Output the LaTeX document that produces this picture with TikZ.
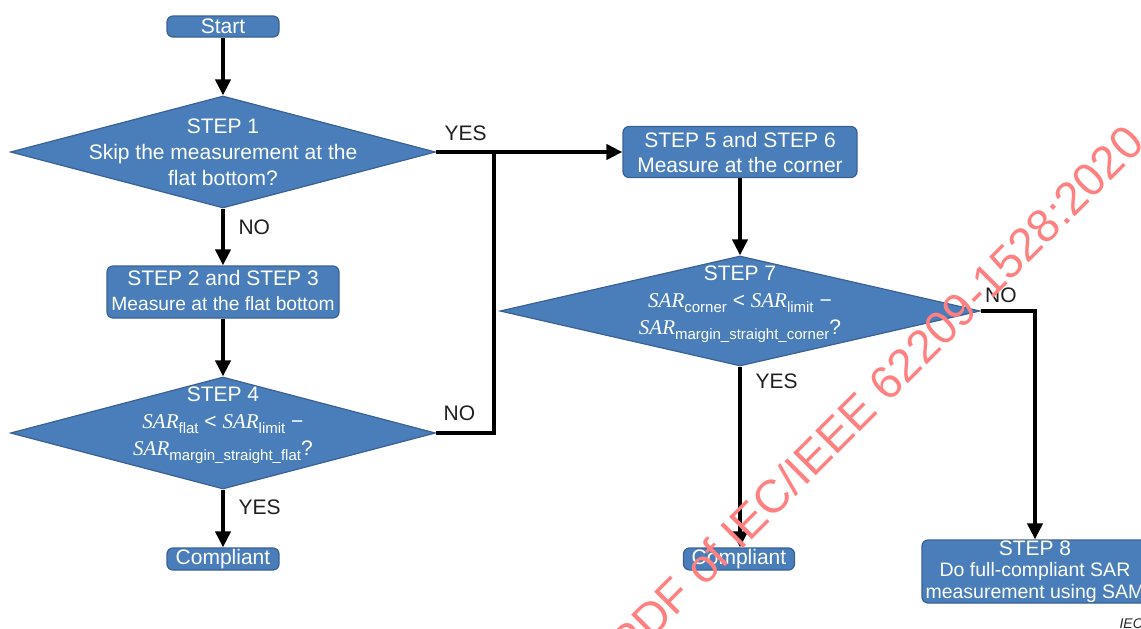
\documentclass[tikz,border=0pt]{standalone}
\usepackage{fontspec}
\setmainfont{Liberation Sans}
\newfontfamily\sarfont{Liberation Serif}
\usetikzlibrary{shapes.geometric,arrows.meta}

\definecolor{boxfill}{HTML}{4A7EBB}
\definecolor{boxedge}{HTML}{3A6192}
\newcommand{\sar}[1]{{\sarfont\itshape SAR}\raisebox{-5pt}{\fontsize{15}{15}\selectfont #1}}

\begin{document}
\begin{tikzpicture}[x=1pt, y=-1pt,
  box/.style={draw=boxedge, fill=boxfill, rounded corners=6pt, line width=1.2pt,
    text=white, inner sep=0pt, align=center, font=\fontsize{21}{25}\selectfont},
  decision/.style={diamond, draw=boxedge, fill=boxfill, line width=1.2pt, inner sep=0pt},
  inside/.style={text=white, align=center, inner sep=0pt, font=\fontsize{21}{26}\selectfont},
  conn/.style={line width=4pt, -{Triangle[length=16pt,width=15pt]}},
  link/.style={line width=4pt},
  answer/.style={anchor=west, text=black!88, font=\fontsize{21}{25}\selectfont},
  watermark/.style={text=red!50, font=\fontsize{46.5}{50}\selectfont}]
  \useasboundingbox (0,0) rectangle (1141,629);
  \clip (0,0) rectangle (1141,629);

  % left column
  \node[box, minimum width=112pt, minimum height=21pt] (start) at (223,26.5) {Start};
  \node[decision, minimum width=425pt, minimum height=112pt] (d1) at (223,152) {};
  \node[inside] (d1text) at (d1) {STEP 1\\Skip the measurement at the\\flat bottom?};
  \node[box, minimum width=232pt, minimum height=52pt] (s23) at (223,292) {};
  \node[inside, font=\fontsize{21}{25}\selectfont] (s23text) at (223,290)
    {STEP 2 and STEP 3\\{\fontsize{19.2}{25}\selectfont Measure at the flat bottom}};
  \node[decision, minimum width=425pt, minimum height=112pt] (d4) at (223,433) {};
  \node[inside] (d4text) at (223,425)
    {STEP 4\\[1pt]\sar{flat} < \sar{limit} −\\[1pt]\sar{margin\_straight\_flat}?};
  \node[box, minimum width=112pt, minimum height=22pt] (ok1) at (223,559) {Compliant};

  % right column
  \node[box, minimum width=234pt, minimum height=51pt] (s56) at (740,152)
    {STEP 5 and STEP 6\\Measure at the corner};
  \node[decision, minimum width=480pt, minimum height=110pt] (d7) at (740,311) {};
  \node[inside] (d7text) at (740,304)
    {STEP 7\\[1pt]\sar{corner} < \sar{limit} −\\[1pt]\sar{margin\_straight\_corner}?};
  \node[box, minimum width=111pt, minimum height=22pt] (ok2) at (739,559) {Compliant};
  \node[box, minimum width=226pt, minimum height=63pt, font=\fontsize{19.5}{21.5}\selectfont]
    (s8) at (1035,571.5) {{\fontsize{21}{21.5}\selectfont STEP 8}\\Do full-compliant SAR\\measurement using SAM};

  \draw[conn] (start) -- (d1);
  \draw[conn] (d1) -- (s23);
  \draw[conn] (s23) -- (d4);
  \draw[conn] (d4) -- (ok1);
  \draw[conn] (d1.east) -- (s56.west);
  \coordinate (join) at (494,152);
  \draw[link] (d4.east) -| (join);
  \draw[conn] (s56) -- (d7);
  \draw[conn] (d7.east) -| (s8.north);
  \draw[conn] (d7.south) -- (d7.south |- ok2.north);

  \node[answer] (no1) at ([shift={(12,19)}]d1.south) {NO};
  \node[answer] (yes1) at ([shift={(5,-19)}]d1.east) {YES};
  \node[answer] (no4) at ([shift={(4,-20)}]d4.east) {NO};
  \node[answer] (yes4) at ([shift={(12,18)}]d4.south) {YES};
  \node[answer] (no7) at ([shift={(1,-16)}]d7.east) {NO};
  \node[answer] (yes7) at ([shift={(12,15)}]d7.south) {YES};

  \node[anchor=base west, text=black!85, font=\fontsize{14}{16}\selectfont\itshape]
    (iec) at (1116,628) {IEC};
  \node[watermark, rotate=45, anchor=base east] (wm) at (1149,143)
    {PDF of IEC/IEEE 62209-1528:2020};
\end{tikzpicture}
\end{document}
